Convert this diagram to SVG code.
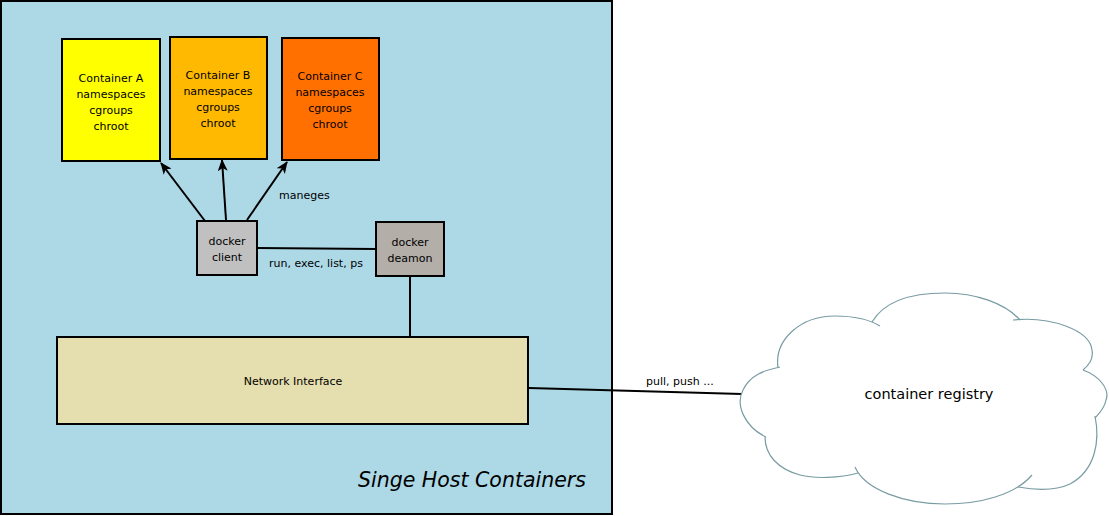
<svg xmlns="http://www.w3.org/2000/svg" width="1109" height="516" viewBox="0 0 1109 516">
<style>
text{font-family:"DejaVu Sans","Liberation Sans",sans-serif;fill:#000}
.c{font-size:11px;text-anchor:middle}
.box{stroke:#000;stroke-width:2}
.ln{stroke:#000;stroke-width:2;fill:none}
.cl{stroke:#789ca3;stroke-width:1.2;fill:none}
</style>
<defs>
<marker id="ah" markerWidth="12" markerHeight="10" refX="11" refY="5" orient="auto" markerUnits="userSpaceOnUse">
<path d="M0,0 L12,5 L0,10 L3,5 Z" fill="#000"/>
</marker>
</defs>
<rect width="1109" height="516" fill="#fff"/>
<g id="host">
<rect x="1" y="1" width="611" height="513" fill="#add8e6" class="box"/>
<text x="358" y="487" style="font-size:20.5px;font-style:italic">Singe Host Containers</text>
</g>
<g id="connectors">
<line class="ln" x1="205" y1="221" x2="161" y2="163" marker-end="url(#ah)"/>
<line class="ln" x1="226" y1="220" x2="222" y2="160" marker-end="url(#ah)"/>
<line class="ln" x1="247" y1="220" x2="287" y2="162" marker-end="url(#ah)"/>
<line class="ln" x1="257" y1="248" x2="376" y2="249"/>
<line class="ln" x1="410" y1="276" x2="410" y2="337"/>
<line class="ln" x1="529" y1="388" x2="742" y2="394"/>
<text x="279" y="199" style="font-size:11px">maneges</text>
<text x="269" y="267" style="font-size:11px">run, exec, list, ps</text>
<text x="646" y="385" style="font-size:11px">pull, push ...</text>
</g>
<g id="containerA">
<rect x="62" y="39" width="98" height="122" fill="#ffff00" class="box"/>
<text class="c" x="111" y="82">Container A</text>
<text class="c" x="111" y="98">namespaces</text>
<text class="c" x="111" y="114">cgroups</text>
<text class="c" x="111" y="130">chroot</text>
</g>
<g id="containerB">
<rect x="170" y="37" width="97" height="122" fill="#ffb900" class="box"/>
<text class="c" x="218" y="79">Container B</text>
<text class="c" x="218" y="95">namespaces</text>
<text class="c" x="218" y="111">cgroups</text>
<text class="c" x="218" y="127">chroot</text>
</g>
<g id="containerC">
<rect x="282" y="38" width="97" height="122" fill="#ff7000" class="box"/>
<text class="c" x="330" y="80">Container C</text>
<text class="c" x="330" y="96">namespaces</text>
<text class="c" x="330" y="112">cgroups</text>
<text class="c" x="330" y="128">chroot</text>
</g>
<g id="dockerClient">
<rect x="197" y="221" width="60" height="54" fill="#c0c0c0" class="box"/>
<text class="c" x="227" y="245">docker</text>
<text class="c" x="227" y="261">client</text>
</g>
<g id="dockerDeamon">
<rect x="376" y="222" width="68" height="54" fill="#b3aea8" class="box"/>
<text class="c" x="410" y="246">docker</text>
<text class="c" x="410" y="262">deamon</text>
</g>
<g id="networkInterface">
<rect x="57" y="337" width="471" height="87" fill="#e5deae" class="box"/>
<text class="c" x="293" y="385">Network Interface</text>
</g>
<g id="registry">
<path fill="#fff" d="M766,437 C745,427 735,405 743,390 C750,375 765,370 780,367 C774,340 800,316 835,316 C855,316 870,320 877,324 C885,300 915,293 945,293 C975,293 1005,303 1017,318 C1050,316 1090,330 1092,350 C1094,360 1088,366 1083,370 C1100,376 1110,390 1106,400 C1104,410 1098,414 1095,418 C1100,440 1096,470 1070,484 C1055,491 1035,490 1025,482 C1015,495 980,504 945,504 C905,504 865,490 857,470 C840,478 815,479 800,475 C778,469 765,455 766,437 Z"/>
<path class="cl" d="M766,437 C745,427 735,405 743,390 C750,375 765,370 780,367"/>
<path class="cl" d="M778,368 C774,340 800,316 835,316 C855,316 870,320 880,326"/>
<path class="cl" d="M872,322 C885,300 915,293 945,293 C975,293 1005,303 1020,320"/>
<path class="cl" d="M1013,320 C1050,316 1090,330 1092,350 C1094,360 1088,366 1083,370"/>
<path class="cl" d="M1083,370 C1100,376 1110,390 1106,400 C1104,410 1098,414 1095,418"/>
<path class="cl" d="M1095,416 C1100,440 1096,470 1070,484 C1055,491 1035,490 1018,487"/>
<path class="cl" d="M1032,475 C1015,495 980,504 945,504 C905,504 865,490 855,467"/>
<path class="cl" d="M858,473 C840,478 815,479 800,475 C778,469 765,455 765,437"/>
<text x="929" y="399" style="font-size:14.5px;text-anchor:middle">container registry</text>
</g>
</svg>
